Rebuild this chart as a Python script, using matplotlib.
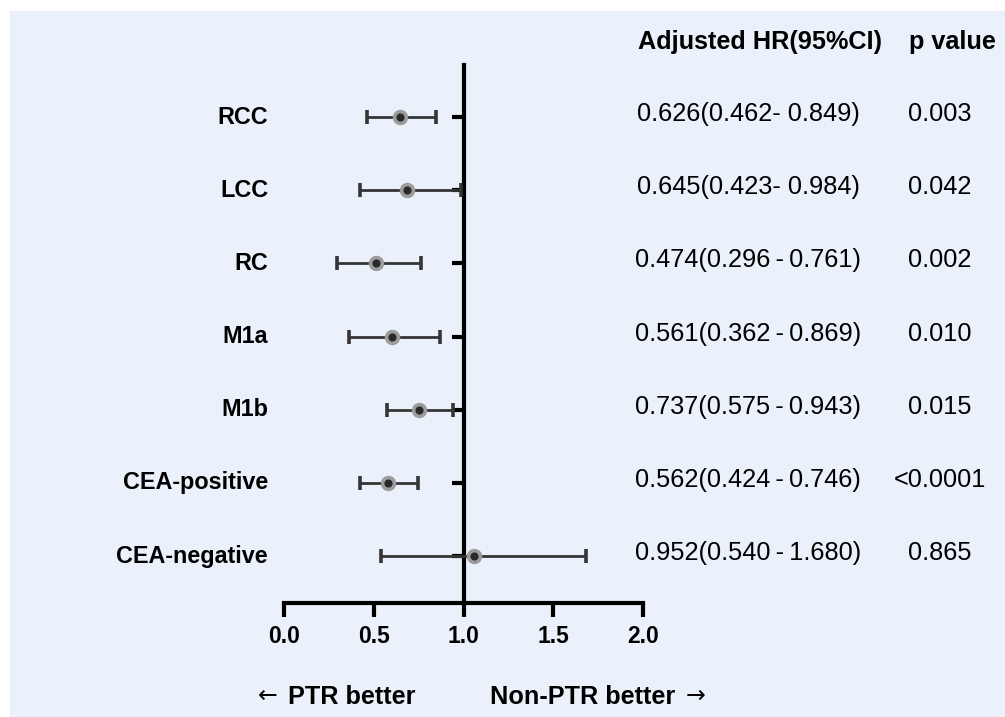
import matplotlib.pyplot as plt
from matplotlib.patches import Rectangle

plt.rcParams['font.family'] = ['Liberation Sans', 'DejaVu Sans']

# data
groups = ["RCC", "LCC", "RC", "M1a", "M1b", "CEA-positive", "CEA-negative"]
hr_point = [0.648, 0.687, 0.513, 0.600, 0.754, 0.581, 1.060]   # dots as drawn
ci_low = [0.462, 0.423, 0.296, 0.362, 0.575, 0.424, 0.540]
ci_high = [0.849, 0.984, 0.761, 0.869, 0.943, 0.746, 1.680]
hr_text = ["0.626(0.462- 0.849)", "0.645(0.423- 0.984)",
           "0.474(0.296\u2009-\u20090.761)", "0.561(0.362\u2009-\u20090.869)",
           "0.737(0.575\u2009-\u20090.943)", "0.562(0.424\u2009-\u20090.746)",
           "0.952(0.540\u2009-\u20091.680)"]
p_text = ["0.003", "0.042", "0.002", "0.010", "0.015", "<0.0001", "0.865"]
xticks = [0.0, 0.5, 1.0, 1.5, 2.0]

W, H = 1005, 717
fig = plt.figure(figsize=(W / 100, H / 100), dpi=100)
fig.patches.append(Rectangle((10 / W, 0), 1, 1 - 11 / H, transform=fig.transFigure,
                             facecolor="#eaf1fa", edgecolor="none", zorder=-10))

ax = fig.add_axes([284 / W, 1 - 603 / H, (643 - 284) / W, (603 - 65) / H])
ax.set_facecolor("none")

rows = list(range(len(groups)))
err_lo = [p - l for p, l in zip(hr_point, ci_low)]
err_hi = [h - p for p, h in zip(hr_point, ci_high)]
ax.errorbar(hr_point, rows, xerr=[err_lo, err_hi], fmt="o", color="#353535",
            ecolor="#353535", elinewidth=2.0, capsize=5.2, capthick=2.0,
            markersize=8.5, markerfacecolor="#2a2a2a", markeredgecolor="#9c9c9c",
            markeredgewidth=2.6, zorder=3)

ax.set_xlim(0, 2)
ax.set_ylim(6.642, -0.711)

# axes styling
for s in ["top", "right"]:
    ax.spines[s].set_visible(False)
ax.spines["left"].set_position(("data", 1.0))
ax.spines["left"].set_linewidth(3)
ax.spines["bottom"].set_linewidth(3)

ax.set_xticks(xticks)
ax.set_xticklabels([f"{v:.1f}" for v in xticks], fontsize=16.5, fontweight="bold")
ax.tick_params(axis="x", length=10, width=3, pad=6)
ax.set_yticks(rows)
ax.set_yticklabels([])
ax.tick_params(axis="y", length=8.5, width=3, direction="out")

# labels on the left
for r, g in zip(rows, groups):
    ax.text(-16 / 179.5, r, g, ha="right", va="center", fontsize=16.8,
            fontweight="bold")

# right columns
for r, t, p in zip(rows, hr_text, p_text):
    y = 1 - (117 + r * 73.17 - 3) / H
    fig.text(748 / W, y, t, ha="center", va="center", fontsize=18.3)
    fig.text(940 / W, y, p, ha="center", va="center", fontsize=18.3)

fig.text(760 / W, 1 - 42 / H, "Adjusted HR(95%CI)", ha="center", va="center",
         fontsize=18.2, fontweight="bold")
fig.text(952 / W, 1 - 42 / H, "p value", ha="center", va="center",
         fontsize=18.2, fontweight="bold")

# direction labels, arrows in DejaVu for a longer glyph
fig.text(258 / W, 1 - 696 / H, "\u2190", ha="left", va="center",
         fontsize=17, family="DejaVu Sans")
fig.text(415 / W, 1 - 697 / H, "PTR better", ha="right", va="center",
         fontsize=18.2, fontweight="bold")
fig.text(490 / W, 1 - 697 / H, "Non-PTR better", ha="left", va="center",
         fontsize=18.2, fontweight="bold")
fig.text(705 / W, 1 - 696 / H, "\u2192", ha="right", va="center",
         fontsize=17, family="DejaVu Sans")

fig.savefig("out.png", dpi=100, facecolor="white")
